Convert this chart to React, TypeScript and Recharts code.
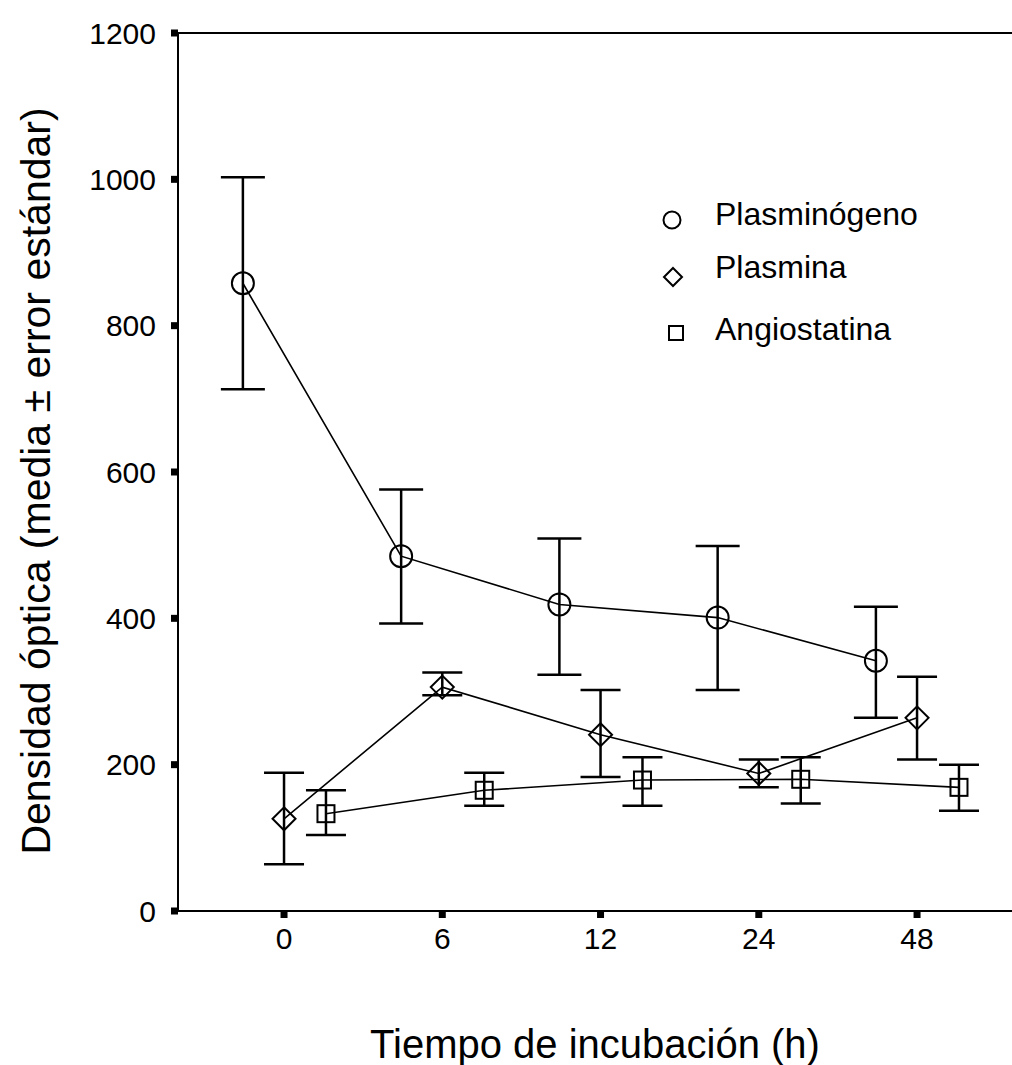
import React from 'react';
import { ComposedChart, Line, XAxis, YAxis, ErrorBar, Legend, ReferenceLine } from 'recharts';

const timeLabels = ['0', '6', '12', '24', '48'];

const plasminogenoMean = [858, 485, 419, 401, 342];
const plasminogenoHigh = [1003, 576, 509, 499, 416];
const plasminogenoLow = [713, 393, 323, 302, 264];

const plasminaMean = [126, 306, 241, 188, 264];
const plasminaHigh = [189, 326, 302, 207, 320];
const plasminaLow = [64, 295, 183, 169, 207];

const angiostatinaMean = [133, 165, 179, 180, 169];
const angiostatinaHigh = [165, 189, 210, 210, 200];
const angiostatinaLow = [104, 144, 144, 147, 137];

const yTicks = [0, 200, 400, 600, 800, 1000, 1200];

const xTitle = 'Tiempo de incubación (h)';
const yTitle = 'Densidad óptica (media ± error estándar)';

const FONT = 'Liberation Sans, Arial, sans-serif';

// side-by-side offset of each series within a time point (in category units)
const buildRows = (mean: number[], high: number[], low: number[], shift: number) =>
  timeLabels.map((_, i) => ({
    x: i + shift,
    y: mean[i],
    err: [mean[i] - low[i], high[i] - mean[i]],
  }));

const series = [
  { key: 'plasminogeno', name: 'Plasminógeno', shape: 'circle', size: 11, cap: 22, data: buildRows(plasminogenoMean, plasminogenoHigh, plasminogenoLow, -0.26) },
  { key: 'plasmina', name: 'Plasmina', shape: 'diamond', size: 11.5, cap: 20, data: buildRows(plasminaMean, plasminaHigh, plasminaLow, 0) },
  { key: 'angiostatina', name: 'Angiostatina', shape: 'square', size: 8.5, cap: 20, data: buildRows(angiostatinaMean, angiostatinaHigh, angiostatinaLow, 0.265) },
];

function Marker({ shape, cx, cy, size }: { shape: string; cx: number; cy: number; size: number }) {
  const common = { fill: 'none', stroke: '#000', strokeWidth: 2 };
  if (shape === 'circle') return <circle cx={cx} cy={cy} r={size} {...common} />;
  if (shape === 'diamond')
    return (
      <polygon
        points={`${cx},${cy - size} ${cx + size},${cy} ${cx},${cy + size} ${cx - size},${cy}`}
        {...common}
      />
    );
  return <rect x={cx - size} y={cy - size} width={size * 2} height={size * 2} {...common} />;
}

function LegendBox() {
  const rows = [
    { name: series[0].name, shape: 'circle', cx: 22, cy: 30, size: 8.5, base: 35 },
    { name: series[1].name, shape: 'diamond', cx: 23, cy: 87, size: 9, base: 88 },
    { name: series[2].name, shape: 'square', cx: 26, cy: 143, size: 7, base: 150 },
  ];
  return (
    <svg width={320} height={170}>
      {rows.map((r) => (
        <g key={r.name}>
          <Marker shape={r.shape} cx={r.cx} cy={r.cy} size={r.size} />
          <text x={65} y={r.base} fontFamily={FONT} fontSize={32} fill="#000">
            {r.name}
          </text>
        </g>
      ))}
    </svg>
  );
}

export default function App() {
  return (
    <div style={{ position: 'absolute', left: 0, top: 0, background: '#fff' }}>
      <ComposedChart width={1012} height={1065} margin={{ top: 33, right: 0, bottom: 0, left: 0 }}>
        <XAxis
          dataKey="x"
          type="number"
          domain={[-0.67, 4.6]}
          ticks={[0, 1, 2, 3, 4]}
          allowDataOverflow
          tickFormatter={(v: number) => timeLabels[v]}
          height={154}
          tickSize={7}
          tickMargin={10}
          axisLine={{ stroke: '#000', strokeWidth: 2 }}
          tickLine={{ stroke: '#000', strokeWidth: 7 }}
          tick={{ fill: '#000', fontSize: 30, fontFamily: FONT }}
          label={{ value: xTitle, position: 'insideBottom', offset: 7, fill: '#000', fontSize: 40, fontFamily: FONT }}
        />
        <YAxis
          type="number"
          domain={[0, 1200]}
          ticks={yTicks}
          width={178}
          tickSize={7}
          tickMargin={15}
          axisLine={{ stroke: '#000', strokeWidth: 2 }}
          tickLine={{ stroke: '#000', strokeWidth: 7 }}
          tick={{ fill: '#000', fontSize: 30, fontFamily: FONT }}
          label={{
            value: yTitle,
            content: () => (
              <text
                x={50}
                y={481}
                transform="rotate(-90, 50, 481)"
                textAnchor="middle"
                fontFamily={FONT}
                fontSize={41}
                fill="#000"
              >
                {yTitle}
              </text>
            ),
          }}
        />
        <ReferenceLine y={1200} stroke="#000" strokeWidth={2} />
        <Legend
          layout="horizontal"
          verticalAlign="middle"
          align="center"
          content={() => <LegendBox />}
          wrapperStyle={{ position: 'absolute', left: 650, top: 190, width: 320 }}
        />
        {series.map((s) => (
          <Line
            key={s.key}
            data={s.data}
            dataKey="y"
            name={s.name}
            type="linear"
            stroke="#000"
            strokeWidth={1.6}
            isAnimationActive={false}
            activeDot={false}
            dot={(p: any) => <Marker key={p.index} shape={s.shape} cx={p.cx} cy={p.cy} size={s.size} />}
          >
            <ErrorBar dataKey="err" direction="y" width={s.cap} stroke="#000" strokeWidth={2.5} isAnimationActive={false} />
          </Line>
        ))}
      </ComposedChart>
    </div>
  );
}
